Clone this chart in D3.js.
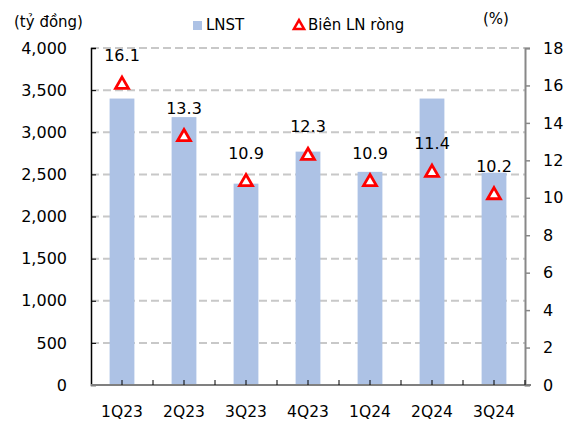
<!DOCTYPE html>
<html>
<head>
<meta charset="utf-8">
<script src="https://cdn.jsdelivr.net/npm/d3@7"></script>
<style>
  html, body { margin: 0; padding: 0; background: #fff; }
  svg { display: block; }
  text { font-family: "DejaVu Sans", Verdana, sans-serif; fill: #000; }
</style>
</head>
<body>
<svg id="chart" width="573" height="423"></svg>
<script>
// Quarterly net profit (tỷ đồng) and net margin (%)
const quarters = ["1Q23", "2Q23", "3Q23", "4Q23", "1Q24", "2Q24", "3Q24"];
const profit = [3400, 3180, 2390, 2770, 2530, 3400, 2520];
const margin = [16.1, 13.3, 10.9, 12.3, 10.9, 11.4, 10.2];
const leftTicks = [0, 500, 1000, 1500, 2000, 2500, 3000, 3500, 4000];
const rightTicks = [0, 2, 4, 6, 8, 10, 12, 14, 16, 18];

const svg = d3.select("#chart");
const m = { left: 91, right: 525, top: 48, bottom: 385 };
const fsNum = 16;   // numbers on axes and labels
const fsText = 15;  // titles, legend, categories

const x = d3.scaleBand().domain(quarters).range([m.left, m.right]);
const yL = d3.scaleLinear().domain([0, 4000]).range([m.bottom, m.top]);
const yR = d3.scaleLinear().domain([0, 18]).range([m.bottom, m.top]);

// dashed horizontal gridlines on the left-axis values
svg.append("g").selectAll("line").data(leftTicks.filter(d => d > 0)).join("line")
  .attr("x1", m.left).attr("x2", m.right)
  .attr("y1", d => yL(d)).attr("y2", d => yL(d))
  .attr("stroke", "#c8c8c8").attr("stroke-width", 2)
  .attr("stroke-dasharray", "8,4");

// bars
const bw = x.bandwidth() * 0.4;
svg.append("g").selectAll("rect").data(quarters).join("rect")
  .attr("x", (d) => x(d) + (x.bandwidth() - bw) / 2)
  .attr("width", bw)
  .attr("y", (d, i) => yL(profit[i]))
  .attr("height", (d, i) => yL(0) - yL(profit[i]))
  .attr("fill", "#adc2e5");

// left axis
const axL = svg.append("g").attr("transform", `translate(${m.left},0)`)
  .call(d3.axisLeft(yL).tickValues(leftTicks).tickFormat(d3.format(",")).tickSize(-5).tickPadding(24));
axL.select(".domain").attr("stroke", "#000").attr("stroke-width", 1.5);
axL.selectAll(".tick line").attr("stroke", "#000");
axL.selectAll("text").attr("font-size", fsNum).attr("font-family", null);

// right axis
const axR = svg.append("g").attr("transform", `translate(${m.right},0)`)
  .call(d3.axisRight(yR).tickValues(rightTicks).tickSize(5).tickPadding(13));
axR.select(".domain").attr("stroke", "#888").attr("stroke-width", 2);
axR.selectAll(".tick line").attr("stroke", "#888").attr("stroke-width", 1.5);
axR.selectAll("text").attr("font-size", fsNum).attr("font-family", null);

// bottom axis: ticks at band edges and centres, pointing up
const bottom = svg.append("g");
bottom.append("line")
  .attr("x1", m.left).attr("x2", m.right + 6)
  .attr("y1", m.bottom).attr("y2", m.bottom)
  .attr("stroke", "#808080").attr("stroke-width", 2);
const tickXs = [];
quarters.forEach(q => { tickXs.push(x(q) + x.bandwidth() / 2); tickXs.push(x(q) + x.bandwidth()); });
bottom.selectAll("line.t").data(tickXs).join("line").attr("class", "t")
  .attr("x1", d => d).attr("x2", d => d)
  .attr("y1", m.bottom).attr("y2", m.bottom - 5)
  .attr("stroke", "#000").attr("stroke-width", 1);
bottom.selectAll("text").data(quarters).join("text")
  .attr("x", d => x(d) + x.bandwidth() / 2)
  .attr("y", 412)
  .attr("dy", "0.35em")
  .attr("text-anchor", "middle")
  .attr("font-size", 15.5)
  .text(d => d);

// margin markers: open red triangles
const tri = d3.symbol().type(d3.symbolTriangle).size(72);
svg.append("g").selectAll("path").data(quarters).join("path")
  .attr("d", tri)
  .attr("transform", (d, i) => `translate(${x(d) + x.bandwidth() / 2},${yR(margin[i]) + 1})`)
  .attr("fill", "#fff").attr("stroke", "#ff0000").attr("stroke-width", 2.8)
  .attr("stroke-linejoin", "miter");

// margin value labels
svg.append("g").selectAll("text").data(quarters).join("text")
  .attr("x", d => x(d) + x.bandwidth() / 2)
  .attr("y", (d, i) => yR(margin[i]) - 28)
  .attr("dy", "0.35em")
  .attr("text-anchor", "middle")
  .attr("font-size", fsNum)
  .text((d, i) => margin[i].toFixed(1));

// axis titles
svg.append("text").attr("x", 14).attr("y", 22).attr("dy", "0.35em")
  .attr("font-size", fsText).text("(tỷ đồng)");
svg.append("text").attr("x", 483).attr("y", 19).attr("dy", "0.35em")
  .attr("font-size", fsText).text("(%)");

// legend
svg.append("rect").attr("x", 193).attr("y", 21).attr("width", 9).attr("height", 9).attr("fill", "#adc2e5");
svg.append("text").attr("x", 206).attr("y", 25).attr("dy", "0.35em").attr("font-size", fsText).text("LNST");
svg.append("path").attr("d", d3.symbol().type(d3.symbolTriangle).size(45))
  .attr("transform", "translate(299,26)")
  .attr("fill", "#fff").attr("stroke", "#ff0000").attr("stroke-width", 2.5);
svg.append("text").attr("x", 308).attr("y", 25).attr("dy", "0.35em").attr("font-size", fsText).text("Biên LN ròng");
</script>
</body>
</html>
